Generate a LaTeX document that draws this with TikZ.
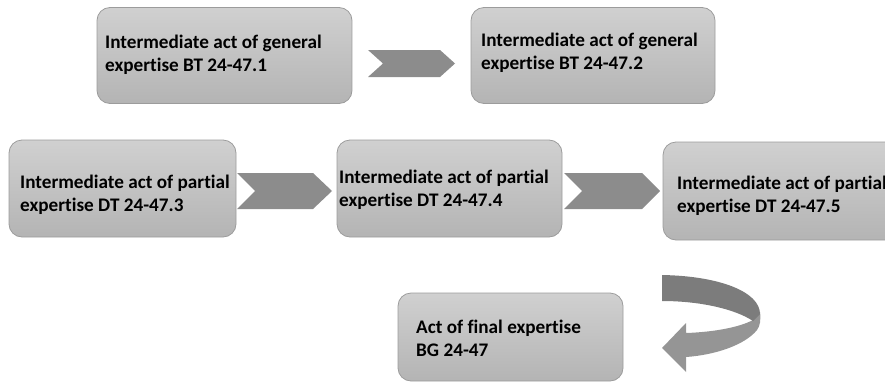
\documentclass[tikz,border=0pt]{standalone}
\usepackage{fontspec}
\setmainfont{Carlito}[Ligatures=NoCommon]
\definecolor{boxtop}{HTML}{D0D0D0}
\definecolor{boxbot}{HTML}{B4B4B4}
\definecolor{boxedge}{HTML}{9C9C9C}
\definecolor{chevgray}{HTML}{8C8C8C}
\definecolor{arrdark}{HTML}{7C7C7C}
\definecolor{arrlight}{HTML}{959595}
\begin{document}
\begin{tikzpicture}[x=1pt,y=-1pt,
  box/.style={draw=boxedge, line width=0.8pt, rounded corners=13pt, top color=boxtop, bottom color=boxbot, inner sep=0pt},
  txt/.style={anchor=base west, inner sep=0pt, font=\fontsize{19.2}{23}\selectfont\bfseries, text=black},
  chev/.style={fill=chevgray, draw=none}]
\useasboundingbox (0,0) rectangle (885,383);
\clip (0,0) rectangle (885,383);

% boxes
\node[box, minimum width=255pt, minimum height=96pt] (b1) at (224.5,55.5) {};
\node[box, minimum width=244pt, minimum height=96pt] (b2) at (593,55.5) {};
\node[box, minimum width=227pt, minimum height=97pt] (b3) at (122.5,188.5) {};
\node[box, minimum width=225pt, minimum height=97pt] (b4) at (449.5,188.5) {};
\node[box, minimum width=240pt, minimum height=98pt] (b5) at (783,191) {};
\node[box, minimum width=225pt, minimum height=88pt] (b6) at (510.5,337) {};

% texts
\node[txt] (t1a) at (105,48) {Intermediate act of general};
\node[txt] (t1b) at (105,71) {expertise BT 24-47.1};
\node[txt] (t2a) at (481,46) {Intermediate act of general};
\node[txt] (t2b) at (481,69) {expertise BT 24-47.2};
\node[txt] (t3a) at (20,188) {Intermediate act of partial};
\node[txt] (t3b) at (20,211) {expertise DT 24-47.3};
\node[txt] (t4a) at (339,183) {Intermediate act of partial};
\node[txt] (t4b) at (339,206) {expertise DT 24-47.4};
\node[txt] (t5a) at (677,189) {Intermediate act of partial};
\node[txt] (t5b) at (677,212) {expertise DT 24-47.5};
\node[txt] (t6a) at (416,333) {Act of final expertise};
\node[txt] (t6b) at (416,356) {BG 24-47};

% chevrons
\fill[chev] (368,50) -- (440,50) -- (455,63.5) -- (440,77) -- (368,77) -- (383,63.5) -- cycle;
\fill[chev] (237,173) -- (313,173) -- (332,191) -- (313,209) -- (237,209) -- (255,191) -- cycle;
\fill[chev] (564,173) -- (642,173) -- (660,191) -- (642,209) -- (564,209) -- (582,191) -- cycle;

% curved arrow
\fill[arrlight] (760,312) .. controls (761,320) and (760,326) .. (757,330)
  .. controls (745,345) and (715,355) .. (686,357) -- (686,372) -- (662,348) -- (686,323) -- (686,333)
  .. controls (715,332) and (740,327) .. (753,320) -- cycle;
\fill[arrdark] (662,275) .. controls (720,276) and (760,292) .. (760,314) -- (753,321)
  .. controls (735,309) and (700,301) .. (662,301) -- cycle;
\end{tikzpicture}
\end{document}
